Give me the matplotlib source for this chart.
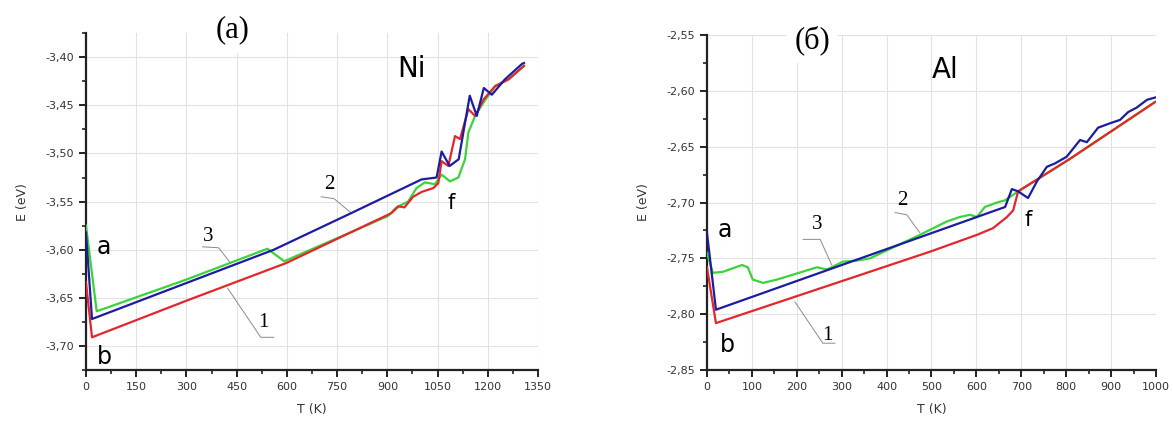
import matplotlib
matplotlib.use("Agg")
import matplotlib.pyplot as plt
from matplotlib.ticker import MultipleLocator, FuncFormatter

# Ni panel (a)
ni_T_blue = [0, 18, 561, 786, 1002, 1047, 1062, 1086, 1113, 1146, 1167, 1188, 1212, 1251, 1302, 1308]
ni_E_blue = [-3.582, -3.672, -3.600, -3.563, -3.527, -3.525, -3.498, -3.513, -3.506, -3.440,
             -3.461, -3.432, -3.439, -3.423, -3.407, -3.406]
ni_T_red = [0, 18, 300, 597, 912, 933, 951, 977, 1002, 1037, 1052, 1062, 1082, 1102, 1117,
            1142, 1162, 1187, 1222, 1262, 1308]
ni_E_red = [-3.634, -3.691, -3.653, -3.614, -3.562, -3.555, -3.556, -3.545, -3.540, -3.536,
            -3.531, -3.508, -3.513, -3.482, -3.485, -3.454, -3.461, -3.444, -3.430, -3.423, -3.409]
ni_T_green = [0, 32, 300, 542, 592, 902, 927, 962, 987, 1012, 1042, 1062, 1087, 1112, 1132,
              1142, 1162, 1187, 1222, 1262, 1308]
ni_E_green = [-3.575, -3.664, -3.631, -3.599, -3.612, -3.565, -3.556, -3.550, -3.536, -3.530,
              -3.532, -3.522, -3.529, -3.525, -3.506, -3.478, -3.461, -3.447, -3.430, -3.423, -3.409]

# Al panel (б)
al_T_blue = [0, 20, 664, 679, 693, 715, 735, 757, 775, 801, 831, 846,
             871, 898, 920, 938, 957, 980, 998]
al_E_blue = [-2.727, -2.796, -2.704, -2.688, -2.690, -2.696,
             -2.681, -2.668, -2.665, -2.659, -2.644, -2.646, -2.633, -2.629, -2.626, -2.619,
             -2.615, -2.608, -2.606]
al_T_red = [0, 20, 363, 497, 601, 637, 668, 682, 693, 808, 998]
al_E_red = [-2.758, -2.808, -2.762, -2.744, -2.729, -2.723, -2.713, -2.707, -2.690, -2.661, -2.610]
al_T_green = [0, 13, 36, 78, 91, 102, 125, 156, 245, 267, 303, 334, 363, 474, 534, 563, 586,
              601, 619, 646, 664, 693, 808, 998]
al_E_green = [-2.745, -2.763, -2.762, -2.756, -2.758, -2.769, -2.772, -2.769, -2.758, -2.760,
              -2.753, -2.752, -2.750, -2.729, -2.717, -2.713, -2.711, -2.713, -2.704, -2.700,
              -2.698, -2.690, -2.661, -2.610]

RED = "#e3262c"
BLUE = "#1c1ca0"
GREEN = "#3ad33a"
LEADER = "#8a8a8a"

comma = FuncFormatter(lambda v, p: f"{v:.2f}".replace(".", ","))
intfmt = FuncFormatter(lambda v, p: f"{v:.0f}")


def style_axes(ax, xlim, ylim, xmaj, ymaj):
    ax.set_xlim(*xlim)
    ax.set_ylim(*ylim)
    ax.xaxis.set_major_locator(MultipleLocator(xmaj))
    ax.xaxis.set_minor_locator(MultipleLocator(xmaj / 2))
    ax.yaxis.set_major_locator(MultipleLocator(ymaj))
    ax.yaxis.set_minor_locator(MultipleLocator(ymaj / 2))
    ax.yaxis.set_major_formatter(comma)
    ax.xaxis.set_major_formatter(intfmt)
    ax.grid(True, which="major", color="#e2e2e2", lw=0.8)
    ax.set_axisbelow(True)
    for s in ["top", "right"]:
        ax.spines[s].set_visible(False)
    for s in ["left", "bottom"]:
        ax.spines[s].set_linewidth(1.6)
        ax.spines[s].set_color("#222222")
    ax.tick_params(which="major", direction="out", length=5, width=1.4, labelsize=8,
                   labelcolor="#333333", color="#222222")
    ax.tick_params(which="minor", direction="out", length=3, width=1.2, color="#222222")
    ax.set_xlabel("T (K)", fontsize=9, color="#333333", labelpad=8)
    ax.set_ylabel("E (eV)", fontsize=9, color="#333333", labelpad=12)


def leader(ax, pts):
    xs = [p[0] for p in pts]
    ys = [p[1] for p in pts]
    ax.plot(xs, ys, color=LEADER, lw=0.7, zorder=4)


fig = plt.figure(figsize=(11.73, 4.25), dpi=100)
ax1 = fig.add_axes([0.0733, 0.1294, 0.3854, 0.7926])
ax2 = fig.add_axes([0.6027, 0.1294, 0.3828, 0.7882])

# panel (a) Ni
ax1.plot(ni_T_green, ni_E_green, color=GREEN, lw=1.6, zorder=5)
ax1.plot(ni_T_red, ni_E_red, color=RED, lw=1.6, zorder=6)
ax1.plot(ni_T_blue, ni_E_blue, color=BLUE, lw=1.6, zorder=7)
style_axes(ax1, (0, 1350), (-3.725, -3.375), 150, 0.05)

ax1.text(54, -3.597, "a", fontsize=17, ha="center", va="center")
ax1.text(54, -3.711, "b", fontsize=17, ha="center", va="center")
ax1.text(1092, -3.551, "f", fontsize=15, ha="center", va="center")
ax1.text(972, -3.4125, "Ni", fontsize=20, ha="center", va="center")
ax1.text(726, -3.532, "2", fontsize=15, family="Liberation Serif", ha="center", va="center")
ax1.text(366, -3.586, "3", fontsize=15, family="Liberation Serif", ha="center", va="center")
ax1.text(531, -3.676, "1", fontsize=15, family="Liberation Serif", ha="center", va="center")
leader(ax1, [(702, -3.545), (741, -3.547), (789, -3.561)])
leader(ax1, [(348, -3.597), (396, -3.598), (432, -3.614)])
leader(ax1, [(423, -3.640), (522, -3.691), (561, -3.691)])

# panel (б) Al
ax2.plot(al_T_green, al_E_green, color=GREEN, lw=1.6, zorder=5)
ax2.plot(al_T_red, al_E_red, color=RED, lw=1.6, zorder=6)
ax2.plot(al_T_blue, al_E_blue, color=BLUE, lw=1.6, zorder=7)
style_axes(ax2, (0, 1000), (-2.85, -2.55), 100, 0.05)

ax2.text(40, -2.725, "a", fontsize=17, ha="center", va="center")
ax2.text(45, -2.828, "b", fontsize=17, ha="center", va="center")
ax2.text(715, -2.716, "f", fontsize=15, ha="center", va="center")
ax2.text(530, -2.581, "Al", fontsize=20, ha="center", va="center")
ax2.text(434, -2.698, "2", fontsize=15, family="Liberation Serif", ha="center", va="center")
ax2.text(245, -2.720, "3", fontsize=15, family="Liberation Serif", ha="center", va="center")
ax2.text(269, -2.819, "1", fontsize=15, family="Liberation Serif", ha="center", va="center")
leader(ax2, [(419, -2.709), (445, -2.711), (474, -2.727)])
leader(ax2, [(214, -2.733), (252, -2.733), (278, -2.756)])
leader(ax2, [(196, -2.789), (258, -2.826), (285, -2.826)])

# panel titles
fig.text(233 / 1173, 1 - 30 / 425, "(a)", fontsize=22, family="Liberation Serif",
         ha="center", va="center",
         bbox=dict(facecolor="white", edgecolor="none", pad=6))
fig.text(812 / 1173, 1 - 40 / 425, "(б)", fontsize=22, family="Liberation Serif",
         ha="center", va="center",
         bbox=dict(facecolor="white", edgecolor="none", pad=6))

fig.savefig("out.png", dpi=100, facecolor="white")
